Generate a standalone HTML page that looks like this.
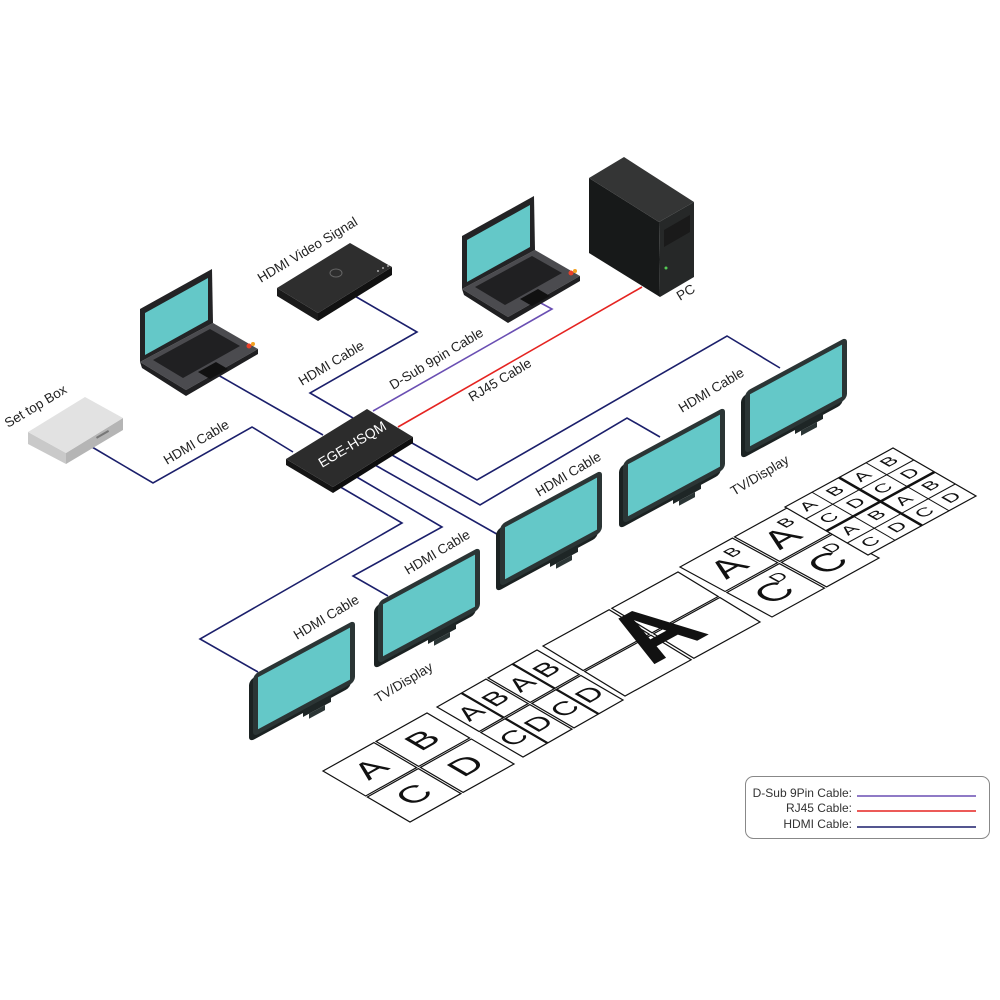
<!DOCTYPE html>
<html><head><meta charset="utf-8"><style>
html,body{margin:0;padding:0;background:#fff;width:1000px;height:1000px;overflow:hidden}
svg{display:block}
.lb{font-family:"Liberation Sans",sans-serif;font-size:13.5px;fill:#222}
.gl{font-family:"Liberation Sans",sans-serif;fill:#111;text-anchor:middle;dominant-baseline:central}
.c{fill:#fff;stroke:#111;stroke-width:1.2}
</style></head><body>
<svg width="1000" height="1000" viewBox="0 0 1000 1000" xmlns="http://www.w3.org/2000/svg">
<defs>
<g id="tv">
  <g transform="matrix(1,-0.54,0,1,0,0)">
    <rect x="-4" y="3" width="102" height="62" rx="5" fill="#1b2222"/>
    <rect x="0" y="0" width="102" height="62" rx="5" fill="#2b3535"/>
    <rect x="5" y="5" width="92" height="52" fill="#64c8c8"/>
    <rect x="50" y="62" width="28" height="7" fill="#1e2626"/>
    <rect x="56" y="69" width="16" height="5" fill="#2b3535"/>
  </g>
</g>
<g id="laptop">
  <polygon points="140,362 213,323 258,349 186,390" fill="#4b4b4f"/>
  <polygon points="140,362 186,390 258,349 258,354 186,396 142,368" fill="#1f1f21"/>
  <polygon points="153,360 210,329 240,346 183,378" fill="#202022"/>
  <polygon points="198,372 216,362 228,369 210,379" fill="#111"/>
  <circle cx="249" cy="346" r="2.5" fill="#e8402a"/>
  <circle cx="253" cy="344" r="2" fill="#f2a020"/>
  <polygon points="140,309 212,269 213,323 140,362" fill="#232325"/>
  <polygon points="145,313 208,278 208,320 145,355" fill="#64c8c8"/>
</g>
</defs>

<!-- cables -->
<g fill="none" stroke-width="1.6" stroke-linejoin="miter">
  <polyline points="92,447 153,483 252,427 293,452" stroke="#1b1f6b"/>
  <polyline points="218,375 323,435" stroke="#1b1f6b"/>
  <polyline points="353,295 417,332 310,393 353,418" stroke="#1b1f6b"/>
  <polyline points="373,411 552,309 537,301" stroke="#6a4fb3"/>
  <polyline points="398,427 642,287" stroke="#e52421"/>
  <polyline points="412,443 477,480 727,336 780,368" stroke="#1b1f6b"/>
  <polyline points="392,455 480,505 627,418 660,437" stroke="#1b1f6b"/>
  <polyline points="375,465 502,537" stroke="#1b1f6b"/>
  <polyline points="355,476 442,527 353,576 388,596" stroke="#1b1f6b"/>
  <polyline points="337,485 402,523 200,639 258,672" stroke="#1b1f6b"/>
</g>

<!-- set top box -->
<polygon points="28,432 66,453 66,464 28,444" fill="#c9c9c9"/>
<polygon points="66,453 123,418 123,430 66,464" fill="#b5b5b5"/>
<polygon points="28,432 85,397 123,418 66,453" fill="#e2e2e2"/>
<rect x="96" y="437" width="14" height="2" fill="#777" transform="rotate(-30 96 437)"/>

<!-- left laptop & right laptop -->
<use href="#laptop"/>
<use href="#laptop" transform="translate(322,-73)"/>

<!-- HDMI video signal box -->
<polygon points="277,288 318,313 318,321 277,296" fill="#1a1a1a"/>
<polygon points="318,313 392,267 392,275 318,321" fill="#111"/>
<polygon points="277,288 350,243 392,267 318,313" fill="#2e2e2e"/>
<ellipse cx="336" cy="273" rx="6" ry="4" fill="none" stroke="#666" stroke-width="1"/>
<circle cx="378" cy="271" r="1" fill="#aaa"/><circle cx="383" cy="268" r="1" fill="#aaa"/><circle cx="388" cy="266" r="1" fill="#aaa"/>

<!-- PC tower -->
<polygon points="589,178 659,222 660,297 589,253" fill="#171919"/>
<polygon points="659,222 694,202 694,277 660,297" fill="#262828"/>
<polygon points="589,178 624,157 694,202 659,222" fill="#343535"/>
<polygon points="664,230 690,215 690,232 664,247" fill="#1a1a1a"/>
<circle cx="666" cy="268" r="1.5" fill="#5c5"/>

<!-- hub -->
<polygon points="286,459 333,487 333,493 286,465" fill="#151515"/>
<polygon points="333,487 413,437 413,443 333,493" fill="#0e0e0e"/>
<polygon points="286,459 367,409 413,437 333,487" fill="#2c2c2c"/>
<text x="0" y="0" transform="translate(322,468) rotate(-31)" font-family="Liberation Sans,sans-serif" font-size="14" fill="#fff">EGE-HSQM</text>

<!-- displays -->
<use href="#tv" transform="translate(745,392)"/>
<use href="#tv" transform="translate(623,462)"/>
<use href="#tv" transform="translate(500,525)"/>
<use href="#tv" transform="translate(378,602)"/>
<use href="#tv" transform="translate(253,675)"/>

<!-- labels -->
<g class="lb">
<text transform="translate(8,428) rotate(-31)">Set top Box</text>
<text transform="translate(261,283) rotate(-31)">HDMI Video Signal</text>
<text transform="translate(167,465) rotate(-31)">HDMI Cable</text>
<text transform="translate(302,386) rotate(-31)">HDMI Cable</text>
<text transform="translate(393,390) rotate(-31)">D-Sub 9pin Cable</text>
<text transform="translate(472,402) rotate(-31)">RJ45 Cable</text>
<text transform="translate(680,301) rotate(-31)">PC</text>
<text transform="translate(682,413) rotate(-31)">HDMI Cable</text>
<text transform="translate(539,497) rotate(-31)">HDMI Cable</text>
<text transform="translate(734,496) rotate(-31)">TV/Display</text>
<text transform="translate(408,575) rotate(-31)">HDMI Cable</text>
<text transform="translate(297,640) rotate(-31)">HDMI Cable</text>
<text transform="translate(378,703) rotate(-31)">TV/Display</text>
</g>

<!-- floor grids -->
<!-- G1 -->
<g transform="matrix(1.04,-0.58,0.87,0.51,323,771)">
  <rect class="c" vector-effect="non-scaling-stroke" x="0" y="0" width="49" height="49"/>
  <rect class="c" vector-effect="non-scaling-stroke" x="51" y="0" width="49" height="49"/>
  <rect class="c" vector-effect="non-scaling-stroke" x="0" y="51" width="49" height="49"/>
  <rect class="c" vector-effect="non-scaling-stroke" x="51" y="51" width="49" height="49"/>
  <g class="gl" font-size="32"><text x="25" y="25">A</text><text x="75" y="25">B</text><text x="25" y="75">C</text><text x="75" y="75">D</text></g>
</g>
<!-- G2 -->
<g transform="matrix(1.0,-0.57,0.86,0.5,437,707)">
  <g vector-effect="non-scaling-stroke">
  <rect class="c" vector-effect="non-scaling-stroke" x="0" y="0" width="24" height="49"/>
  <rect class="c" vector-effect="non-scaling-stroke" x="25" y="0" width="24" height="49"/>
  <rect class="c" vector-effect="non-scaling-stroke" x="51" y="0" width="24" height="49"/>
  <rect class="c" vector-effect="non-scaling-stroke" x="76" y="0" width="24" height="49"/>
  <rect class="c" vector-effect="non-scaling-stroke" x="0" y="51" width="24" height="49"/>
  <rect class="c" vector-effect="non-scaling-stroke" x="25" y="51" width="24" height="49"/>
  <rect class="c" vector-effect="non-scaling-stroke" x="51" y="51" width="24" height="49"/>
  <rect class="c" vector-effect="non-scaling-stroke" x="76" y="51" width="24" height="49"/>
  </g>
  <g class="gl" font-size="26"><text x="12" y="25">A</text><text x="37" y="25">B</text><text x="63" y="25">A</text><text x="88" y="25">B</text>
  <text x="12" y="75">C</text><text x="37" y="75">D</text><text x="63" y="75">C</text><text x="88" y="75">D</text></g>
</g>
<!-- G3 -->
<g transform="matrix(1.35,-0.74,0.82,0.5,543,646)">
  <rect class="c" vector-effect="non-scaling-stroke" x="0" y="0" width="49" height="49"/>
  <rect class="c" vector-effect="non-scaling-stroke" x="51" y="0" width="49" height="49"/>
  <rect class="c" vector-effect="non-scaling-stroke" x="0" y="51" width="49" height="49"/>
  <rect class="c" vector-effect="non-scaling-stroke" x="51" y="51" width="49" height="49"/>
  <text class="gl" transform="translate(52,49) scale(0.6,1)" x="0" y="0" font-size="100" font-weight="bold">A</text>
</g>
<!-- G4 -->
<g transform="matrix(1.07,-0.59,0.92,0.5,680,567)">
  <rect class="c" vector-effect="non-scaling-stroke" x="0" y="0" width="49" height="49"/>
  <rect class="c" vector-effect="non-scaling-stroke" x="51" y="0" width="49" height="49"/>
  <rect class="c" vector-effect="non-scaling-stroke" x="0" y="51" width="49" height="49"/>
  <rect class="c" vector-effect="non-scaling-stroke" x="51" y="51" width="49" height="49"/>
  <g class="gl" font-size="34"><text x="22" y="27">A</text><text x="72" y="27">A</text><text x="22" y="77">C</text><text x="72" y="77">C</text></g>
  <g class="gl" font-size="16"><text x="37" y="14">B</text><text x="87" y="14">B</text><text x="37" y="64">D</text><text x="87" y="64">D</text></g>
</g>
<!-- G5 -->
<g transform="matrix(1.08,-0.59,0.83,0.48,785,507)">
  <rect x="0" y="0" width="100" height="100" fill="#fff" stroke="#111" stroke-width="1.2" vector-effect="non-scaling-stroke"/>
  <g stroke="#111" vector-effect="non-scaling-stroke">
    <line x1="25" y1="0" x2="25" y2="100" stroke-width="1" vector-effect="non-scaling-stroke"/>
    <line x1="75" y1="0" x2="75" y2="100" stroke-width="1" vector-effect="non-scaling-stroke"/>
    <line x1="0" y1="25" x2="100" y2="25" stroke-width="1" vector-effect="non-scaling-stroke"/>
    <line x1="0" y1="75" x2="100" y2="75" stroke-width="1" vector-effect="non-scaling-stroke"/>
    <line x1="50" y1="0" x2="50" y2="100" stroke-width="2.5" vector-effect="non-scaling-stroke"/>
    <line x1="0" y1="50" x2="100" y2="50" stroke-width="2.5" vector-effect="non-scaling-stroke"/>
  </g>
  <g class="gl" font-size="17">
    <text x="12" y="12">A</text><text x="37" y="12">B</text><text x="62" y="12">A</text><text x="87" y="12">B</text>
    <text x="12" y="37">C</text><text x="37" y="37">D</text><text x="62" y="37">C</text><text x="87" y="37">D</text>
    <text x="12" y="62">A</text><text x="37" y="62">B</text><text x="62" y="62">A</text><text x="87" y="62">B</text>
    <text x="12" y="87">C</text><text x="37" y="87">D</text><text x="62" y="87">C</text><text x="87" y="87">D</text>
  </g>
</g>

<!-- legend -->
<rect x="745.5" y="776.5" width="244" height="62" rx="8" fill="#fff" stroke="#888" stroke-width="1"/>
<g font-family="Liberation Sans,sans-serif" font-size="12" fill="#333" text-anchor="end">
  <text x="852" y="797">D-Sub 9Pin Cable:</text>
  <text x="852" y="812">RJ45 Cable:</text>
  <text x="852" y="828">HDMI Cable:</text>
</g>
<line x1="857" y1="796" x2="976" y2="796" stroke="#6a4fb3" stroke-width="1.6"/>
<line x1="857" y1="811" x2="976" y2="811" stroke="#e52421" stroke-width="1.6"/>
<line x1="857" y1="827" x2="976" y2="827" stroke="#1b1f6b" stroke-width="1.6"/>
</svg>
</body></html>
